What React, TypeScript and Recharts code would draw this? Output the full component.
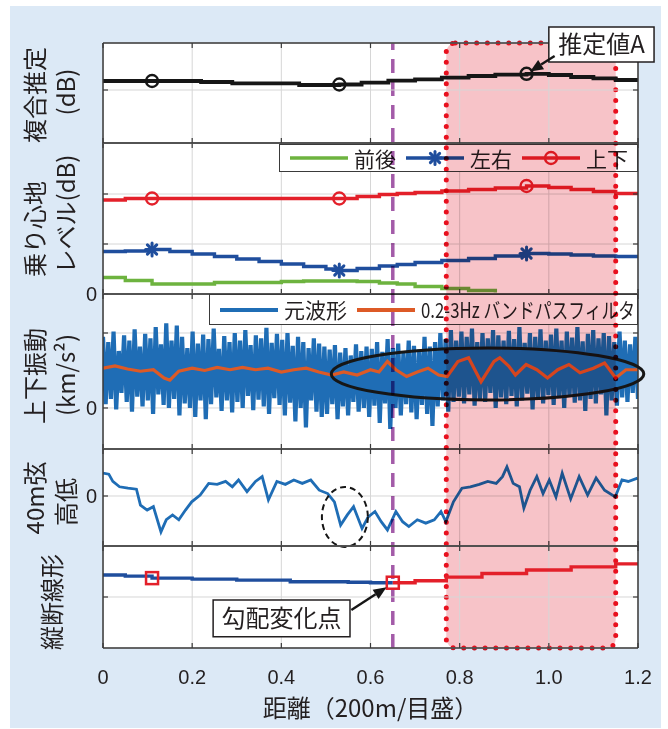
import React from "react";
import {
  LineChart,
  Line,
  XAxis,
  YAxis,
  CartesianGrid,
  ReferenceArea,
  ReferenceLine,
  Legend,
} from "recharts";

// 距離軸 (200m/目盛)
const DIST_TICKS = [0, 0.2, 0.4, 0.6, 0.8, 1.0, 1.2];
const X_TITLE = "距離（200m/目盛）";
const EVAL_MARKS = [0.11, 0.53, 0.95];
const GRADE_MARKS_BEFORE = [0.11];
const GRADE_MARKS_AFTER = [0.65];
const GRADE_CHANGE = 0.65;
const EVAL_RANGE = [0.77, 1.15];

// 複合推定 (dB)
const compDist = [0, 0.05, 0.11, 0.16, 0.22, 0.29, 0.36, 0.44, 0.53, 0.58, 0.64, 0.7, 0.76, 0.82, 0.88, 0.95, 1.0, 1.05, 1.1, 1.15, 1.2];
const compLevel = [0.9, 0.9, 0.9, 0.9, 0.8, 0.67, 0.67, 0.5, 0.55, 0.73, 0.93, 1.07, 1.23, 1.4, 1.53, 1.62, 1.5, 1.3, 1.17, 1.0, 0.83];

// 乗り心地レベル (dB)
const rideNames = ["前後", "左右", "上下"];
const rideDist = [0, 0.05, 0.11, 0.15, 0.2, 0.25, 0.3, 0.35, 0.4, 0.45, 0.5, 0.53, 0.57, 0.62, 0.66, 0.7, 0.76, 0.82, 0.88, 0.95, 1.0, 1.05, 1.1, 1.15, 1.2];
const rideFB = [0.33, 0.27, 0.2, 0.2, 0.2, 0.23, 0.23, 0.23, 0.25, 0.26, 0.26, 0.26, 0.25, 0.22, 0.2, 0.15, 0.11, 0.07, 0.03, null, null, null, null, null, null];
const rideLR = [0.85, 0.86, 0.89, 0.85, 0.8, 0.75, 0.7, 0.65, 0.6, 0.55, 0.5, 0.47, 0.51, 0.56, 0.59, 0.63, 0.67, 0.71, 0.76, 0.81, 0.8, 0.78, 0.76, 0.75, 0.75];
const rideUD = [1.88, 1.91, 1.91, 1.91, 1.91, 1.91, 1.91, 1.91, 1.91, 1.91, 1.91, 1.91, 1.95, 1.99, 2.01, 2.03, 2.06, 2.09, 2.12, 2.16, 2.13, 2.09, 2.05, 2.01, 1.99];

// 上下振動 (km/s²)
const vibNames = ["元波形", "0.2-3Hz バンドパスフィルタ"];
const vibRaw = [
  0.95, 0.05, 0.88, 0.12, 1.02, -0.02, 0.76, 0.2, 0.97, 0.08, 0.9, -0.05, 1.05, 0.15, 0.82, 0.02, 0.99,
  0.1, 0.93, -0.08, 1.08, 0.18, 0.85, 0.04, 1.13, 0.0, 0.9, 0.12, 1.1, -0.1, 0.95, 0.06, 0.8, 0.0,
  1.02, -0.12, 0.86, 0.1, 0.98, -0.15, 0.92, 0.05, 1.06, 0.14, 0.79, -0.04, 0.96, 0.1, 0.88, -0.06, 1.0,
  0.08, 0.9, 0.0, 1.04, 0.16, 0.84, -0.03, 0.97, 0.11, 0.93, 0.02, 1.07, -0.08, 0.87, 0.13, 0.99, 0.04,
  0.91, -0.1, 1.0, 0.07, 0.83, -0.18, 0.95, 0.0, 0.88, -0.26, 0.8, 0.1, 0.93, -0.05, 0.86, -0.12, 0.82,
  -0.08, 0.78, 0.05, 0.84, -0.15, 0.74, 0.02, 0.8, -0.1, 0.7, 0.08, 0.85, -0.05, 0.76, 0.0, 0.82, -0.12,
  0.79, 0.03, 0.88, -0.2, 0.75, 0.06, 0.92, -0.28, 0.8, 0.0, 0.86, -0.1, 0.74, 0.05, 0.9, -0.06, 0.83,
  -0.15, 0.78, 0.04, 0.95, -0.08, 0.82, -0.24, 0.88, 0.02, 1.0, 0.1, 0.92, -0.05, 1.04, 0.08, 0.9, 0.15,
  1.02, 0.06, 0.95, 0.18, 1.06, 0.03, 0.88, 0.12, 1.0, 0.08, 0.93, 0.2, 1.04, 0.0, 0.97, 0.14, 0.9,
  0.05, 1.03, 0.16, 0.92, 0.02, 1.08, 0.1, 0.87, 0.19, 1.0, -0.02, 0.95, 0.12, 1.05, 0.06, 0.9, 0.17,
  0.98, 0.04, 1.06, 0.13, 0.9, 0.0, 1.02, 0.15, 0.94, 0.07, 1.08, 0.1, 0.89, -0.04, 0.99, 0.12, 1.04,
  0.06, 0.93, 0.18, 1.0, -0.1, 0.96, 0.1, 0.88, 0.03, 1.02, 0.14, 0.9, 0.08, 0.85, 0.2, 0.95, 0.12,
];
const vibFiltDist = [0, 0.027, 0.055, 0.084, 0.113, 0.137, 0.15, 0.17, 0.2, 0.228, 0.256, 0.285, 0.313, 0.342, 0.37, 0.4, 0.428, 0.456, 0.484, 0.513, 0.54, 0.57, 0.6, 0.619, 0.638, 0.657, 0.681, 0.705, 0.729, 0.753, 0.772, 0.796, 0.82, 0.848, 0.877, 0.89, 0.91, 0.925, 0.949, 0.973, 0.997, 1.02, 1.045, 1.07, 1.1, 1.125, 1.15, 1.173, 1.2];
const vibFilt = [0.53, 0.56, 0.52, 0.49, 0.51, 0.4, 0.37, 0.49, 0.53, 0.5, 0.54, 0.51, 0.54, 0.51, 0.53, 0.48, 0.51, 0.53, 0.48, 0.44, 0.48, 0.44, 0.51, 0.48, 0.62, 0.51, 0.42, 0.48, 0.53, 0.44, 0.42, 0.62, 0.67, 0.35, 0.62, 0.67, 0.56, 0.44, 0.58, 0.51, 0.4, 0.51, 0.58, 0.47, 0.53, 0.6, 0.4, 0.51, 0.51];

// 40m弦高低
const chordDist = [0, 0.013, 0.022, 0.037, 0.056, 0.075, 0.084, 0.099, 0.113, 0.13, 0.142, 0.156, 0.17, 0.185, 0.199, 0.218, 0.237, 0.256, 0.275, 0.29, 0.304, 0.323, 0.342, 0.357, 0.371, 0.39, 0.409, 0.428, 0.447, 0.466, 0.485, 0.504, 0.519, 0.533, 0.548, 0.562, 0.581, 0.595, 0.61, 0.624, 0.638, 0.657, 0.672, 0.686, 0.705, 0.724, 0.743, 0.758, 0.769, 0.786, 0.805, 0.824, 0.844, 0.863, 0.882, 0.896, 0.906, 0.92, 0.934, 0.944, 0.958, 0.973, 0.987, 1.001, 1.016, 1.03, 1.049, 1.068, 1.087, 1.106, 1.125, 1.149, 1.164, 1.178, 1.199];
const chordLevel = [0.47, 0.45, 0.3, 0.19, 0.16, 0.14, -0.19, -0.29, -0.22, -0.74, -0.49, -0.39, -0.49, -0.29, -0.12, 0.02, 0.26, 0.24, 0.3, 0.19, 0.33, 0.09, 0.3, 0.4, -0.08, 0.3, 0.24, 0.33, 0.26, 0.33, 0.12, 0.05, -0.12, -0.6, -0.39, -0.22, -0.67, -0.43, -0.32, -0.53, -0.7, -0.32, -0.53, -0.63, -0.49, -0.56, -0.49, -0.32, -0.53, -0.12, 0.16, 0.19, 0.24, 0.3, 0.26, 0.4, 0.6, 0.26, 0.19, -0.25, 0.12, 0.4, 0.05, 0.33, -0.02, 0.47, -0.06, 0.4, 0.02, 0.37, 0.12, -0.02, 0.33, 0.3, 0.37];

// 縦断線形
const profDist = [0, 0.05, 0.11, 0.2, 0.3, 0.42, 0.55, 0.6, 0.65, 0.7, 0.77, 0.85, 0.95, 1.05, 1.15, 1.2];
const profBefore = [1.43, 1.41, 1.37, 1.35, 1.33, 1.3, 1.29, 1.28, 1.28, null, null, null, null, null, null, null];
const profAfter = [null, null, null, null, null, null, null, null, 1.28, 1.32, 1.39, 1.46, 1.53, 1.59, 1.65, 1.68];

const compData = compDist.map((d, i) => ({ dist: d, level: compLevel[i] }));
const rideData = rideDist.map((d, i) => ({ dist: d, fb: rideFB[i], lr: rideLR[i], ud: rideUD[i] }));
const vibRawData = vibRaw.map((v, i) => ({ dist: (i * 1.2) / (vibRaw.length - 1), acc: v }));
const vibFiltData = vibFiltDist.map((d, i) => ({ dist: d, acc: vibFilt[i] }));
const chordData = chordDist.map((d, i) => ({ dist: d, level: chordLevel[i] }));
const profData = profDist.map((d, i) => ({ dist: d, before: profBefore[i], after: profAfter[i] }));

const JP = '"Noto Sans CJK JP", "Noto Sans", sans-serif';
const NUM = '"Liberation Sans", Arial, sans-serif';
const INK = "#231f20";
const FRAME = "#3a3a3a";
const GRID = "#d6d6d6";

const C_BLACK = "#161616";
const C_GREEN = "#6db33f";
const C_NAVY = "#1f4e9d";
const C_RED = "#e3202a";
const C_BLUE = "#1f6db5";
const C_ORANGE = "#dd5a26";

const W = 668;
const THIN = 0.01; // axes need a non-zero box to be drawn

const TITLES = {
  comp: [
    { text: "複合推定", x: 33, dy: 52 },
    { text: "(dB)", x: 64, dy: 49 },
  ],
  ride: [
    { text: "乗り心地", x: 33, dy: 86 },
    { text: "レベル(dB)", x: 64, dy: 71 },
  ],
  vib: [
    { text: "上下振動", x: 33, dy: 82 },
    { text: "(km/s²)", x: 64, dy: 81 },
  ],
  chord: [
    { text: "40m弦", x: 33, dy: 49 },
    { text: "高低", x: 64, dy: 53 },
  ],
  prof: [{ text: "縦断線形", x: 50, dy: 56 }],
};

const fmtDist = (v: number) => (v === 0 ? "0" : v.toFixed(1));
const blank = () => "";
const hiddenTick = { fontSize: 1, fill: "none" };

function marker(kind: string, cx: number, cy: number, color: string) {
  if (kind === "circle")
    return <circle cx={cx} cy={cy} r={6} fill="none" stroke={color} strokeWidth={2.4} />;
  if (kind === "square")
    return <rect x={cx - 6} y={cy - 6} width={12} height={12} fill="none" stroke={color} strokeWidth={2.5} />;
  const r = 6.5;
  const d = 4.6;
  return (
    <g stroke={color} strokeWidth={3} strokeLinecap="round">
      <line x1={cx - r} y1={cy} x2={cx + r} y2={cy} />
      <line x1={cx} y1={cy - r} x2={cx} y2={cy + r} />
      <line x1={cx - d} y1={cy - d} x2={cx + d} y2={cy + d} />
      <line x1={cx - d} y1={cy + d} x2={cx + d} y2={cy - d} />
    </g>
  );
}

const dotAt = (kind: string, color: string, marks: number[]) => (p: any) => {
  const on =
    p.payload &&
    p.cy != null &&
    p.value != null &&
    marks.some((m) => Math.abs(m - p.payload.dist) < 1e-6);
  return <g key={`d-${p.index}`}>{on ? marker(kind, p.cx, p.cy, color) : null}</g>;
};

const AxisTitle = ({ viewBox, lines }: any) => {
  const top = viewBox && viewBox.y != null ? viewBox.y : 0;
  return (
    <g>
      {lines.map((l: any, i: number) => {
        const y = top + l.dy;
        return (
          <text
            key={i}
            x={l.x}
            y={y}
            transform={`rotate(-90 ${l.x} ${y})`}
            textAnchor="middle"
            dominantBaseline="central"
            fontFamily={JP}
            fontSize={24}
            fill={INK}
          >
            {l.text}
          </text>
        );
      })}
    </g>
  );
};

const XTitle = ({ viewBox }: any) => (
  <text
    x={viewBox.x + viewBox.width / 2}
    y={viewBox.y + 69}
    textAnchor="middle"
    fontFamily={JP}
    fontSize={24}
    fill={INK}
  >
    {X_TITLE}
  </text>
);

const axisLine = { stroke: FRAME, strokeWidth: 1.5 };
const tickLine = { stroke: FRAME, strokeWidth: 1.2 };

function frameAxes(domain: number[], yTicks: number[], zeroLabel: boolean, lines: any[]) {
  return [
    <XAxis key="xb" xAxisId="x" type="number" dataKey="dist" domain={[0, 1.2]} ticks={DIST_TICKS} interval={0} allowDataOverflow orientation="bottom" mirror height={THIN} tick={hiddenTick} tickFormatter={blank} tickSize={5} axisLine={axisLine} tickLine={tickLine} />,
    <XAxis key="xt" xAxisId="xt" type="number" dataKey="dist" domain={[0, 1.2]} ticks={DIST_TICKS} interval={0} allowDataOverflow orientation="top" mirror height={THIN} tick={hiddenTick} tickFormatter={blank} tickSize={5} axisLine={axisLine} tickLine={tickLine} />,
    <YAxis
      key="yv"
      yAxisId="y"
      type="number"
      domain={domain}
      ticks={yTicks}
      allowDataOverflow
      orientation="left"
      width={THIN}
      axisLine={false}
      tickLine={false}
      tickSize={6}
      tickMargin={0}
      interval={0}
      tick={zeroLabel ? { fontSize: 20, fill: INK, fontFamily: NUM } : hiddenTick}
      tickFormatter={(v: number) => (zeroLabel && v === 0 ? "0" : "")}
      label={(p: any) => <AxisTitle viewBox={p.viewBox} lines={lines} />}
    />,
    <YAxis key="yl" yAxisId="yl" type="number" domain={domain} ticks={yTicks} interval={0} allowDataOverflow orientation="left" mirror width={THIN} tick={hiddenTick} tickFormatter={blank} tickSize={5} axisLine={axisLine} tickLine={tickLine} />,
    <YAxis key="yr" yAxisId="yr" type="number" domain={domain} ticks={yTicks} interval={0} allowDataOverflow orientation="right" mirror width={THIN} tick={hiddenTick} tickFormatter={blank} tickSize={5} axisLine={axisLine} tickLine={tickLine} />,
  ];
}

const ellipseShape = (dash: string | undefined, w: number) => (p: any) => (
  <ellipse
    cx={p.x + p.width / 2}
    cy={p.y + p.height / 2}
    rx={Math.abs(p.width) / 2}
    ry={Math.abs(p.height) / 2}
    fill="none"
    stroke={C_BLACK}
    strokeWidth={w}
    strokeDasharray={dash}
  />
);

const arrowShape = (p: any) => {
  const { x1, y1, x2, y2 } = p;
  const a = Math.atan2(y2 - y1, x2 - x1);
  const len = 13;
  const half = 5.5;
  const bx = x2 - len * Math.cos(a);
  const by = y2 - len * Math.sin(a);
  const nx = -Math.sin(a);
  const ny = Math.cos(a);
  return (
    <g>
      <line x1={x1} y1={y1} x2={bx} y2={by} stroke={C_BLACK} strokeWidth={2.4} />
      <polygon
        points={`${x2},${y2} ${bx + nx * half},${by + ny * half} ${bx - nx * half},${by - ny * half}`}
        fill={C_BLACK}
      />
    </g>
  );
};

const evalShape = (p: any) => (
  <g>
    <rect x={p.x} y={p.y} width={p.width} height={p.height} rx={9} fill="#f7c3c8" />
    <rect
      x={p.x}
      y={p.y}
      width={p.width}
      height={p.height}
      rx={9}
      fill="none"
      stroke="#e8101e"
      strokeWidth={5}
      strokeDasharray="0 10.7"
      strokeLinecap="round"
    />
  </g>
);

const LegendBox = ({ items }: any) => (
  <div
    style={{
      boxSizing: "border-box",
      width: "100%",
      height: "100%",
      border: `1.3px solid ${FRAME}`,
      background: "#fff",
      display: "flex",
      alignItems: "center",
      paddingLeft: 10,
      fontFamily: JP,
      fontSize: 21,
      color: INK,
      whiteSpace: "nowrap",
      lineHeight: 1,
    }}
  >
    {items.map((it: any) => (
      <span key={it.label} style={{ display: "inline-flex", alignItems: "center", marginRight: 10 }}>
        <svg width={58} height={20}>
          <line x1={0} y1={10} x2={58} y2={10} stroke={it.color} strokeWidth={it.width} />
          {it.marker ? marker(it.marker, 29, 10, it.color) : null}
        </svg>
        <span
          style={{
            marginLeft: 6,
            display: "inline-block",
            transform: it.squeeze ? `scaleX(${it.squeeze})` : undefined,
            transformOrigin: "left center",
          }}
        >
          {it.label}
        </span>
      </span>
    ))}
  </div>
);

const rideLegend = [
  { label: rideNames[0], color: C_GREEN, width: 3.5 },
  { label: rideNames[1], color: C_NAVY, width: 3.5, marker: "star" },
  { label: rideNames[2], color: C_RED, width: 3.5, marker: "circle" },
];
const vibLegend = [
  { label: vibNames[0], color: C_BLUE, width: 4 },
  { label: vibNames[1], color: C_ORANGE, width: 4, squeeze: 0.8 },
];

const layer = (top: number, z: number) => ({ position: "absolute" as const, left: 0, top, zIndex: z });

const CompPanel = () => (
  <div style={layer(0, 3)}>
    <LineChart width={W} height={143} data={compData} margin={{ top: 43, right: 30, bottom: 0, left: 103 }}>
      <CartesianGrid xAxisId="x" yAxisId="y" stroke={GRID} />
      {frameAxes([-5.3, 4.7], [0], false, TITLES.comp)}
      <Line xAxisId="x" yAxisId="y" type="stepAfter" dataKey="level" stroke={C_BLACK} strokeWidth={3.8} dot={dotAt("circle", C_BLACK, EVAL_MARKS)} isAnimationActive={false} />
      <ReferenceArea
        xAxisId="x"
        yAxisId="y"
        x1={1.0}
        x2={1.236}
        y1={2.8}
        y2={6.3}
        ifOverflow="visible"
        fill="#fff"
        fillOpacity={1}
        stroke={INK}
        strokeWidth={1.5}
        zIndex={1800}
        label={{ value: "推定値A", position: "center", fontSize: 24, fill: INK, fontFamily: JP }}
      />
      <ReferenceLine xAxisId="x" yAxisId="y" segment={[{ x: 1.013, y: 3.4 }, { x: 0.958, y: 1.85 }]} ifOverflow="visible" shape={arrowShape} zIndex={1800} />
    </LineChart>
  </div>
);

const RidePanel = () => (
  <div style={layer(143, 1)}>
    <LineChart width={W} height={151} data={rideData} margin={{ top: 0, right: 30, bottom: 0, left: 103 }}>
      <CartesianGrid xAxisId="x" yAxisId="y" stroke={GRID} />
      {frameAxes([0, 3.02], [0, 1, 2], true, TITLES.ride)}
      <Line xAxisId="x" yAxisId="y" type="stepAfter" dataKey="fb" stroke={C_GREEN} strokeWidth={3.4} dot={false} isAnimationActive={false} />
      <Line xAxisId="x" yAxisId="y" type="stepAfter" dataKey="lr" stroke={C_NAVY} strokeWidth={3.4} dot={dotAt("star", C_NAVY, EVAL_MARKS)} isAnimationActive={false} />
      <Line xAxisId="x" yAxisId="y" type="stepAfter" dataKey="ud" stroke={C_RED} strokeWidth={3.4} dot={dotAt("circle", C_RED, EVAL_MARKS)} isAnimationActive={false} />
      <Legend
        layout="horizontal"
        verticalAlign="middle"
        align="center"
        wrapperStyle={{ left: 279, top: 1, width: 359, height: 28 }}
        content={() => <LegendBox items={rideLegend} />}
      />
    </LineChart>
  </div>
);

const VibPanel = () => (
  <div style={layer(294, 1)}>
    <LineChart width={W} height={155} margin={{ top: 0, right: 30, bottom: 0, left: 103 }}>
      <CartesianGrid xAxisId="x" yAxisId="y" stroke={GRID} />
      {frameAxes([-0.547, 1.52], [0, 1], true, TITLES.vib)}
      <Line xAxisId="x" yAxisId="y" data={vibRawData} type="linear" dataKey="acc" stroke={C_BLUE} strokeWidth={4.2} strokeLinejoin="bevel" dot={false} isAnimationActive={false} />
      <Line xAxisId="x" yAxisId="y" data={vibFiltData} type="linear" dataKey="acc" stroke={C_ORANGE} strokeWidth={3.2} dot={false} isAnimationActive={false} />
      <ReferenceArea xAxisId="x" yAxisId="y" x1={0.512} x2={1.213} y1={0.107} y2={0.8} ifOverflow="visible" shape={ellipseShape(undefined, 3)} zIndex={1600} />
      <Legend
        layout="horizontal"
        verticalAlign="middle"
        align="center"
        wrapperStyle={{ left: 209, top: 0, width: 429, height: 31 }}
        content={() => <LegendBox items={vibLegend} />}
      />
    </LineChart>
  </div>
);

const ChordPanel = () => (
  <div style={layer(449, 1)}>
    <LineChart width={W} height={97} data={chordData} margin={{ top: 0, right: 30, bottom: 0, left: 103 }}>
      <CartesianGrid xAxisId="x" yAxisId="y" stroke={GRID} />
      {frameAxes([-1.031, 0.969], [0], true, TITLES.chord)}
      <Line xAxisId="x" yAxisId="y" type="linear" dataKey="level" stroke={C_BLUE} strokeWidth={2.8} dot={false} isAnimationActive={false} />
      <ReferenceArea xAxisId="x" yAxisId="y" x1={0.491} x2={0.594} y1={-1.05} y2={0.186} ifOverflow="visible" shape={ellipseShape("6 4", 2)} zIndex={1600} />
    </LineChart>
  </div>
);

const ProfPanel = () => (
  <div style={layer(546, 3)}>
    <LineChart width={W} height={183} data={profData} margin={{ top: 0, right: 30, bottom: 81, left: 103 }}>
      <CartesianGrid xAxisId="x" yAxisId="y" stroke={GRID} />
      {frameAxes([0, 2], [1], false, TITLES.prof)}
      <XAxis
        xAxisId="lab"
        type="number"
        dataKey="dist"
        domain={[0, 1.2]}
        ticks={DIST_TICKS}
        allowDataOverflow
        orientation="bottom"
        height={THIN}
        interval={0}
        axisLine={false}
        tickLine={false}
        tickSize={6}
        tickMargin={16}
        tick={{ fontSize: 20, fill: INK, fontFamily: NUM }}
        tickFormatter={fmtDist}
        label={(p: any) => <XTitle viewBox={p.viewBox} />}
      />
      <Line xAxisId="x" yAxisId="y" type="stepAfter" dataKey="before" stroke={C_NAVY} strokeWidth={3.4} dot={dotAt("square", C_RED, GRADE_MARKS_BEFORE)} isAnimationActive={false} />
      <Line xAxisId="x" yAxisId="y" type="stepAfter" dataKey="after" stroke={C_RED} strokeWidth={3.4} dot={dotAt("square", C_RED, GRADE_MARKS_AFTER)} isAnimationActive={false} />
      <ReferenceArea
        xAxisId="x"
        yAxisId="y"
        x1={0.247}
        x2={0.554}
        y1={0.22}
        y2={0.94}
        ifOverflow="visible"
        fill="#fff"
        fillOpacity={1}
        stroke={INK}
        strokeWidth={1.5}
        zIndex={1800}
        label={{ value: "勾配変化点", position: "center", fontSize: 24, fill: INK, fontFamily: JP }}
      />
      <ReferenceLine xAxisId="x" yAxisId="y" segment={[{ x: 0.557, y: 0.745 }, { x: 0.636, y: 1.19 }]} ifOverflow="visible" shape={arrowShape} zIndex={1800} />
    </LineChart>
  </div>
);

const EvalOverlay = () => (
  <div style={{ ...layer(0, 2), mixBlendMode: "multiply", pointerEvents: "none" }}>
    <LineChart width={W} height={729} margin={{ top: 43, right: 30, bottom: 81, left: 103 }}>
      <XAxis type="number" dataKey="dist" domain={[0, 1.2]} allowDataOverflow hide />
      <YAxis type="number" domain={[0, 1]} allowDataOverflow hide />
      <ReferenceArea x1={EVAL_RANGE[0]} x2={EVAL_RANGE[1]} y1={0} y2={1} ifOverflow="visible" shape={evalShape} />
      <ReferenceLine x={GRADE_CHANGE} stroke="#a35ba8" strokeWidth={3.5} strokeDasharray="14 9" />
    </LineChart>
  </div>
);

export default function App() {
  return (
    <div style={{ position: "absolute", left: 0, top: 0, width: 668, height: 729, background: "#fff", overflow: "hidden" }}>
      <style>{`.recharts-surface{overflow:visible}`}</style>
      <div style={{ position: "absolute", left: 10, top: 6, width: 651, height: 722, background: "#dce9f6" }} />
      <div style={{ position: "absolute", left: 103, top: 43, width: 535, height: 605, background: "#fff" }} />
      <CompPanel />
      <RidePanel />
      <VibPanel />
      <ChordPanel />
      <ProfPanel />
      <EvalOverlay />
    </div>
  );
}
